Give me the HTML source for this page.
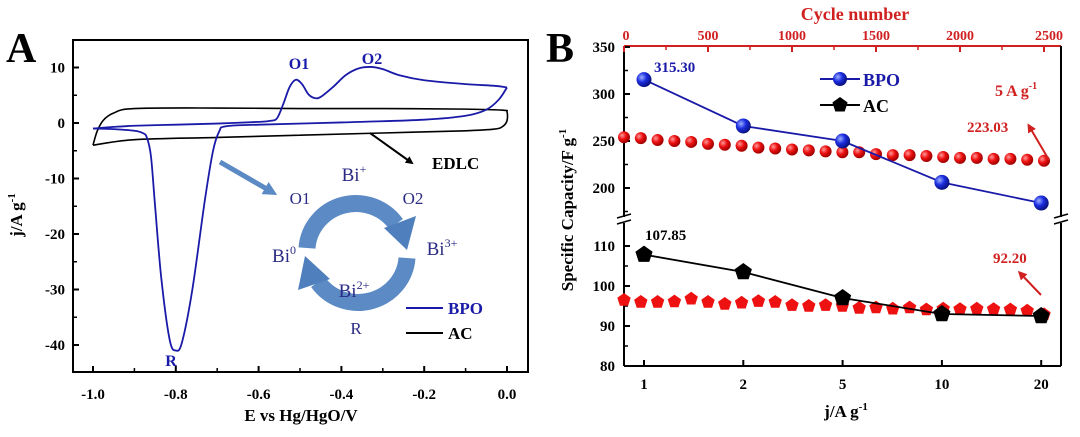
<!DOCTYPE html>
<html><head><meta charset="utf-8"><style>
html,body{margin:0;padding:0;background:#fff;}
svg{display:block;font-family:"Liberation Serif",serif;font-weight:bold;}
</style></head><body>
<svg id="fig" width="1080" height="437" viewBox="0 0 1080 437">
<defs>
<radialGradient id="gb" cx="35%" cy="35%" r="65%"><stop offset="0" stop-color="#9fb0ff"/><stop offset="0.5" stop-color="#1b2de0"/><stop offset="1" stop-color="#0a1280"/></radialGradient>
<radialGradient id="gr" cx="35%" cy="35%" r="65%"><stop offset="0" stop-color="#ff9a9a"/><stop offset="0.5" stop-color="#ee1111"/><stop offset="1" stop-color="#a00000"/></radialGradient>
<marker id="ahk" markerWidth="8" markerHeight="8" refX="6" refY="4" orient="auto" markerUnits="userSpaceOnUse"><path d="M0,0 L8,4 L0,8 z" fill="#000"/></marker>
<marker id="ahr" markerWidth="9" markerHeight="9" refX="6" refY="4.5" orient="auto" markerUnits="userSpaceOnUse"><path d="M0,0 L9,4.5 L0,9 z" fill="#d02020"/></marker>
<marker id="ahb" markerWidth="14" markerHeight="14" refX="8" refY="7" orient="auto" markerUnits="userSpaceOnUse"><path d="M0,0 L14,7 L0,14 z" fill="#5b8ac4"/></marker>
</defs>
<g id="pa"></g>
<g id="pb"></g>
</svg>
<script>
// ---------- Panel A data ----------
const bpoOxE = [-1.0,-0.95,-0.9,-0.8,-0.7,-0.6,-0.57,-0.555,-0.54,-0.525,-0.51,-0.495,-0.48,-0.465,-0.45,-0.42,-0.39,-0.36,-0.33,-0.3,-0.26,-0.2,-0.1,-0.03,0.0];
const bpoOxJ = [-1.0,-0.7,-0.5,-0.3,-0.1,0.2,0.4,0.9,3.5,6.5,7.8,7.0,5.2,4.5,4.7,6.5,8.6,9.8,10.1,9.7,8.6,7.7,7.0,6.7,6.4];
const bpoRedE = [0.0,-0.02,-0.05,-0.1,-0.2,-0.4,-0.6,-0.68,-0.695,-0.71,-0.73,-0.76,-0.785,-0.8,-0.815,-0.835,-0.85,-0.86,-0.87,-0.88,-0.9,-0.95,-1.0];
const bpoRedJ = [6.4,4.2,2.4,1.3,0.6,0.1,-0.3,-0.6,-1.5,-5,-14,-30,-39.5,-41,-39,-28,-15,-6,-2.6,-1.8,-1.4,-1.1,-1.0];
const acE = [-1.0,-0.99,-0.975,-0.95,-0.9,-0.7,-0.5,-0.3,-0.1,-0.01,0.0,0.0,-0.01,-0.03,-0.1,-0.3,-0.5,-0.7,-0.9,-1.0];
const acJ = [-4.0,-1.5,0.5,1.8,2.6,2.7,2.6,2.6,2.5,2.3,2.0,0.4,-0.6,-1.1,-1.4,-1.8,-2.2,-2.6,-3.0,-4.0];
const aYTicks = [10,0,-10,-20,-30,-40];
const aXTicks = [-1.0,-0.8,-0.6,-0.4,-0.2,0.0];

// ---------- Panel B data ----------
const rateCats = ["1","2","5","10","20"];
const bpoRate = [315.30,266,250,206,184];
const acRate = [107.85,103.5,97,93,92.5];
const cycles = [0,100,200,300,400,500,600,700,800,900,1000,1100,1200,1300,1400,1500,1600,1700,1800,1900,2000,2100,2200,2300,2400,2500];
const bpoCyc = [254,253,251,250,249,247,246,245,243,242,241,240,239,238,238,236,235,235,234,233,232,232,231,231,230,229];
const acCyc = [96.5,96,96,96.1,96.8,96,95.5,95.8,96.2,96,95.2,95,95.2,95,94.5,94.6,94.3,94.6,94.1,94.3,94.2,94.3,94.2,94.1,93.8,92.9];
const bUpperTicks = [350,300,250,200];
const bLowerTicks = [110,100,90,80];
const cycleTicks = [0,500,1000,1500,2000,2500];

const NS="http://www.w3.org/2000/svg";
function mk(parent,tag,attrs,name,text){const e=document.createElementNS(NS,tag);for(const k in attrs)e.setAttribute(k,attrs[k]);


if(text!==undefined)e.textContent=text;parent.appendChild(e);return e;}
function smooth(pts){let d=`M${pts[0][0]},${pts[0][1]}`;for(let i=0;i<pts.length-1;i++){const p0=pts[Math.max(0,i-1)],p1=pts[i],p2=pts[i+1],p3=pts[Math.min(pts.length-1,i+2)];
const c1=[p1[0]+(p2[0]-p0[0])/6,p1[1]+(p2[1]-p0[1])/6],c2=[p2[0]-(p3[0]-p1[0])/6,p2[1]-(p3[1]-p1[1])/6];d+=` C${c1[0]},${c1[1]} ${c2[0]},${c2[1]} ${p2[0]},${p2[1]}`;}return d;}

// ---------- Panel A ----------
const A=document.getElementById('pa');
const ax=v=>93+(v+1.0)*414, ay=v=>123-v*5.55;
mk(A,'text',{x:6,y:62,'font-size':42},'panel-a-label','A');
mk(A,'rect',{x:73,y:40,width:455,height:332,fill:'none',stroke:'#000','stroke-width':2},'plot-frame-a');
aYTicks.forEach(t=>{mk(A,'line',{x1:73,x2:79,y1:ay(t),y2:ay(t),stroke:'#000','stroke-width':2},'y-tick');
mk(A,'text',{x:65,y:ay(t)+5,'font-size':15,'text-anchor':'end'},'y-tick-label',String(t));});
[5,-5,-15,-25,-35].forEach(t=>mk(A,'line',{x1:73,x2:77,y1:ay(t),y2:ay(t),stroke:'#000','stroke-width':1.5},'y-minor-tick'));
aXTicks.forEach(t=>{mk(A,'line',{x1:ax(t),x2:ax(t),y1:372,y2:366,stroke:'#000','stroke-width':2},'x-tick');
mk(A,'text',{x:ax(t),y:399,'font-size':15,'text-anchor':'middle'},'x-tick-label',t.toFixed(1));});
[-0.9,-0.7,-0.5,-0.3,-0.1].forEach(t=>mk(A,'line',{x1:ax(t),x2:ax(t),y1:372,y2:368,stroke:'#000','stroke-width':1.5},'x-minor-tick'));
mk(A,'text',{x:301,y:421,'font-size':17,'text-anchor':'middle'},'x-axis-title','E vs Hg/HgO/V');
const yt=mk(A,'text',{x:0,y:0,'font-size':17,'text-anchor':'middle',transform:'translate(22,215) rotate(-90)'},'y-axis-title','j/A g');
const ys=document.createElementNS(NS,'tspan');ys.setAttribute('dy','-7');ys.setAttribute('font-size','11');ys.textContent='-1';yt.appendChild(ys);
mk(A,'path',{d:smooth(acE.map((e,i)=>[ax(e),ay(acJ[i])])),fill:'none',stroke:'#000','stroke-width':1.6},'ac-cv-curve');
mk(A,'path',{d:smooth(bpoOxE.map((e,i)=>[ax(e),ay(bpoOxJ[i])])),fill:'none',stroke:'#1a1aa8','stroke-width':1.8},'bpo-cv-oxidation');
mk(A,'path',{d:smooth(bpoRedE.map((e,i)=>[ax(e),ay(bpoRedJ[i])])),fill:'none',stroke:'#1a1aa8','stroke-width':1.8},'bpo-cv-reduction');
mk(A,'text',{x:299,y:69,'font-size':16,fill:'#1a1aa8','text-anchor':'middle'},'peak-o1-label','O1');
mk(A,'text',{x:372,y:64,'font-size':16,fill:'#1a1aa8','text-anchor':'middle'},'peak-o2-label','O2');
mk(A,'text',{x:171,y:366,'font-size':16,fill:'#1a1aa8','text-anchor':'middle'},'peak-r-label','R');
mk(A,'line',{x1:370,y1:133,x2:412,y2:163,stroke:'#000','stroke-width':2,'marker-end':'url(#ahk)'},'edlc-arrow');
mk(A,'text',{x:432,y:169,'font-size':17},'edlc-label','EDLC');
mk(A,'line',{x1:220,y1:162,x2:272,y2:192,stroke:'#5b8ac4','stroke-width':5,'marker-end':'url(#ahb)'},'inset-pointer-arrow');
const cx=356,cy=252;
mk(A,'path',{d:`M${cx-49},${cy-4} A49,48 0 0 1 ${cx+40},${cy-28}`,fill:'none',stroke:'#5b8ac4','stroke-width':17},'upper-cycle-arc');
mk(A,'polygon',{points:`${cx+28},${cy-24} ${cx+60},${cy-36} ${cx+51},${cy-2}`,fill:'#4f7fbd'},'upper-cycle-arrowhead');
mk(A,'path',{d:`M${cx+51},${cy+6} A49,48 0 0 1 ${cx-38},${cy+30}`,fill:'none',stroke:'#5b8ac4','stroke-width':17},'lower-cycle-arc');
mk(A,'polygon',{points:`${cx-26},${cy+27} ${cx-58},${cy+38} ${cx-51},${cy+4}`,fill:'#4f7fbd'},'lower-cycle-arrowhead');
const tc='#2b2b85';
function sup(name,x,y,base,s){const t=mk(A,'text',{x:x,y:y,'font-size':19,'font-weight':'normal',fill:tc,'text-anchor':'middle'},name,base);
const sp=document.createElementNS(NS,'tspan');sp.setAttribute('dy','-8');sp.setAttribute('font-size','12');sp.textContent=s;t.appendChild(sp);}
sup('bi-plus-label',354,181,'Bi','+');
sup('bi0-label',284,262,'Bi','0');
sup('bi3-label',442,255,'Bi','3+');
sup('bi2-label',354,297,'Bi','2+');
mk(A,'text',{x:300,y:204,'font-size':17,'font-weight':'normal',fill:tc,'text-anchor':'middle'},'o1-label','O1');
mk(A,'text',{x:413,y:204,'font-size':17,'font-weight':'normal',fill:tc,'text-anchor':'middle'},'o2-label','O2');
mk(A,'text',{x:356,y:334,'font-size':17,'font-weight':'normal',fill:tc,'text-anchor':'middle'},'r-label','R');
mk(A,'line',{x1:406,x2:443,y1:308,y2:308,stroke:'#1a1aa8','stroke-width':2},'legend-bpo-line');
mk(A,'text',{x:448,y:314,'font-size':17,fill:'#1a1aa8'},'legend-bpo-label','BPO');
mk(A,'line',{x1:406,x2:443,y1:333,y2:333,stroke:'#000','stroke-width':2},'legend-ac-line');
mk(A,'text',{x:448,y:339,'font-size':17},'legend-ac-label','AC');

// ---------- Panel B ----------
const B=document.getElementById('pb');
const L=624,R=1061,T=46,Bt=366;
const bx=i=>644+i*99.3;
const byU=v=>47+(350-v)*0.94;
const byL=v=>366-(v-80)*4;
const by=v=>v>=150?byU(v):byL(v);
const cxs=c=>624+c*0.168;
mk(B,'text',{x:546,y:62,'font-size':42},'panel-b-label','B');
mk(B,'line',{x1:L,x2:R,y1:Bt,y2:Bt,stroke:'#000','stroke-width':2},'x-axis-bottom');
mk(B,'line',{x1:L,x2:R,y1:T,y2:T,stroke:'#d02020','stroke-width':2},'x-axis-top');
mk(B,'line',{x1:L,x2:L,y1:T,y2:217,stroke:'#000','stroke-width':2},'y-axis-left-upper');
mk(B,'line',{x1:L,x2:L,y1:223,y2:Bt,stroke:'#000','stroke-width':2},'y-axis-left-lower');
mk(B,'line',{x1:R,x2:R,y1:T,y2:217,stroke:'#000','stroke-width':2},'y-axis-right-upper');
mk(B,'line',{x1:R,x2:R,y1:223,y2:Bt,stroke:'#000','stroke-width':2},'y-axis-right-lower');
[L,R].forEach(x=>{mk(B,'line',{x1:x-7,x2:x+7,y1:218,y2:214,stroke:'#000','stroke-width':1.5},'axis-break-mark');
mk(B,'line',{x1:x-7,x2:x+7,y1:224,y2:220,stroke:'#000','stroke-width':1.5},'axis-break-mark');});
bUpperTicks.forEach(t=>{mk(B,'line',{x1:L,x2:L+6,y1:byU(t),y2:byU(t),stroke:'#000','stroke-width':2},'y-tick');
mk(B,'text',{x:615,y:byU(t)+5,'font-size':15,'text-anchor':'end'},'y-tick-label',String(t));});
bLowerTicks.forEach(t=>{mk(B,'line',{x1:L,x2:L+6,y1:byL(t),y2:byL(t),stroke:'#000','stroke-width':2},'y-tick');
mk(B,'text',{x:615,y:byL(t)+5,'font-size':15,'text-anchor':'end'},'y-tick-label',String(t));});
[325,275,225,175].forEach(t=>mk(B,'line',{x1:L,x2:L+4,y1:byU(t),y2:byU(t),stroke:'#000','stroke-width':1.5},'y-minor-tick'));
[105,95,85].forEach(t=>mk(B,'line',{x1:L,x2:L+4,y1:byL(t),y2:byL(t),stroke:'#000','stroke-width':1.5},'y-minor-tick'));
rateCats.forEach((c,i)=>{mk(B,'line',{x1:bx(i),x2:bx(i),y1:Bt,y2:Bt-6,stroke:'#000','stroke-width':2},'x-tick');
mk(B,'text',{x:bx(i),y:389,'font-size':15,'text-anchor':'middle'},'x-tick-label',c);});
cycleTicks.forEach(t=>{mk(B,'line',{x1:cxs(t),x2:cxs(t),y1:T,y2:T+6,stroke:'#d02020','stroke-width':2},'top-tick');
mk(B,'text',{x:cxs(t)+(t===2500?5:(t===0?2:0)),y:40,'font-size':14,fill:'#d02020','text-anchor':'middle'},'top-tick-label',String(t));});
[250,750,1250,1750,2250].forEach(t=>mk(B,'line',{x1:cxs(t),x2:cxs(t),y1:T,y2:T+4,stroke:'#d02020','stroke-width':1.5},'top-minor-tick'));
mk(B,'text',{x:855,y:20,'font-size':18,fill:'#d02020','text-anchor':'middle'},'top-axis-title','Cycle number');
const bxt=mk(B,'text',{x:846,y:417,'font-size':17,'text-anchor':'middle'},'x-axis-title','j/A g');
const bxs=document.createElementNS(NS,'tspan');bxs.setAttribute('dy','-7');bxs.setAttribute('font-size','11');bxs.textContent='-1';bxt.appendChild(bxs);
const byt=mk(B,'text',{x:0,y:0,'font-size':17,'text-anchor':'middle',transform:'translate(573,210) rotate(-90)'},'y-axis-title','Specific Capacity/F g');
const bys=document.createElementNS(NS,'tspan');bys.setAttribute('dy','-7');bys.setAttribute('font-size','11');bys.textContent='-1';byt.appendChild(bys);
function pent(x,y,r){let p=[];for(let k=0;k<5;k++){const a=-Math.PI/2+k*2*Math.PI/5;p.push((x+r*Math.cos(a)).toFixed(1)+','+(y+r*Math.sin(a)).toFixed(1));}return p.join(' ');}
cycles.forEach((c,i)=>{const x=cxs(c);
mk(B,'circle',{cx:x,cy:by(bpoCyc[i]),r:6,fill:'url(#gr)'},'bpo-cycle-point');
mk(B,'polygon',{points:pent(x,by(acCyc[i]),7),fill:'#ee1111'},'ac-cycle-point');});
mk(B,'polyline',{points:bpoRate.map((v,i)=>bx(i)+','+by(v)).join(' '),fill:'none',stroke:'#1a1aa8','stroke-width':1.8},'bpo-rate-line');
mk(B,'polyline',{points:acRate.map((v,i)=>bx(i)+','+by(v)).join(' '),fill:'none',stroke:'#000','stroke-width':1.8},'ac-rate-line');
bpoRate.forEach((v,i)=>mk(B,'circle',{cx:bx(i),cy:by(v),r:7.5,fill:'url(#gb)'},'bpo-rate-point'));
acRate.forEach((v,i)=>mk(B,'polygon',{points:pent(bx(i),by(v),9),fill:'#000'},'ac-rate-point'));
mk(B,'text',{x:654,y:72,'font-size':15,fill:'#1a1aa8'},'bpo-max-value',bpoRate[0].toFixed(2));
mk(B,'text',{x:645,y:240,'font-size':15},'ac-max-value',acRate[0].toFixed(2));
mk(B,'text',{x:967,y:132,'font-size':15,fill:'#d02020'},'bpo-final-value','223.03');
mk(B,'line',{x1:1049,y1:160,x2:1029,y2:126,stroke:'#d02020','stroke-width':2,'marker-end':'url(#ahr)'},'bpo-final-arrow');
mk(B,'text',{x:993,y:263,'font-size':15,fill:'#d02020'},'ac-final-value','92.20');
mk(B,'line',{x1:1041,y1:295,x2:1020,y2:273,stroke:'#d02020','stroke-width':2,'marker-end':'url(#ahr)'},'ac-final-arrow');
const cd=mk(B,'text',{x:995,y:96,'font-size':16,fill:'#d02020'},'current-density-label','5 A g');
const cds=document.createElementNS(NS,'tspan');cds.setAttribute('dy','-7');cds.setAttribute('font-size','10');cds.textContent='-1';cd.appendChild(cds);
mk(B,'line',{x1:820,x2:860,y1:79,y2:79,stroke:'#1a1aa8','stroke-width':2},'legend-bpo-line');
mk(B,'circle',{cx:840,cy:79,r:7,fill:'url(#gb)'},'legend-bpo-marker');
mk(B,'text',{x:863,y:86,'font-size':18,fill:'#1a1aa8'},'legend-bpo-label','BPO');
mk(B,'line',{x1:820,x2:860,y1:105,y2:105,stroke:'#000','stroke-width':2},'legend-ac-line');
mk(B,'polygon',{points:pent(840,105,8),fill:'#000'},'legend-ac-marker');
mk(B,'text',{x:863,y:112,'font-size':18},'legend-ac-label','AC');
</script>
</body></html>
